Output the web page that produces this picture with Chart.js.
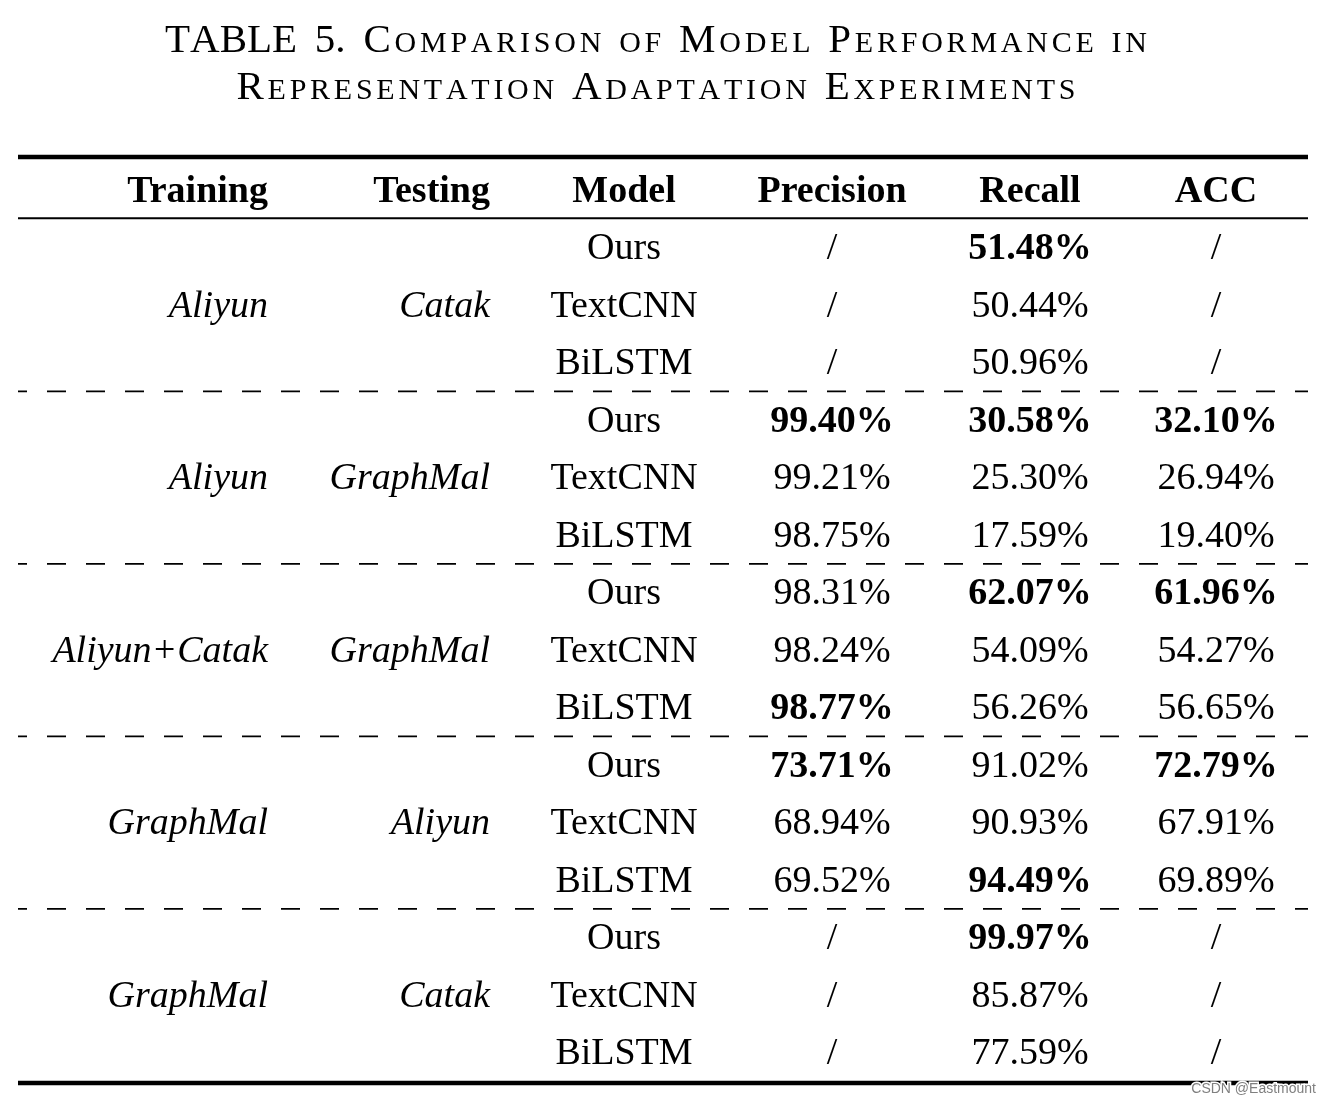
<!DOCTYPE html>
<html>
<head>
<meta charset="utf-8">
<script src="https://cdn.jsdelivr.net/npm/chart.js@4.4.1/dist/chart.umd.min.js"></script>
<style>
    html, body { margin: 0; padding: 0; background: #fff; overflow: hidden; }
    #contenedor { width: 1331px; height: 1103px; position: relative; }
</style>
</head>
<body>
<div id="contenedor"><canvas id="tablaChart"></canvas></div>
<script>
// Datos de la tabla
const titulo = ['TABLE 5. Comparison of Model Performance in', 'Representation Adaptation Experiments'];
const encabezados = ['Training', 'Testing', 'Model', 'Precision', 'Recall', 'ACC'];
const entrenamiento = ['Aliyun', 'Aliyun', 'Aliyun+Catak', 'GraphMal', 'GraphMal'];
const prueba = ['Catak', 'GraphMal', 'GraphMal', 'Aliyun', 'Catak'];
const modelos = ['Ours', 'TextCNN', 'BiLSTM'];
const precision = [null, null, null, 99.40, 99.21, 98.75, 98.31, 98.24, 98.77, 73.71, 68.94, 69.52, null, null, null];
const recall = [51.48, 50.44, 50.96, 30.58, 25.30, 17.59, 62.07, 54.09, 56.26, 91.02, 90.93, 94.49, 99.97, 85.87, 77.59];
const acc = [null, null, null, 32.10, 26.94, 19.40, 61.96, 54.27, 56.65, 72.79, 67.91, 69.89, null, null, null];
const marcaAgua = 'CSDN @Eastmount';

// Disposicion (unidades de las escalas)
const anclaX = [268, 490, 624, 832, 1030, 1216];
const alineacion = ['right', 'right', 'center', 'center', 'center', 'center'];
const FUENTE = '"Liberation Serif", "Times New Roman", serif';
const BASE_TEXTO = 0.21; // desplazamiento de la linea base respecto al centro de fila

function textoValor(v) {
    return v === null ? '/' : v.toFixed(2) + '%';
}

// Negrita si es el mejor valor del grupo
function esMejor(serie, i) {
    if (serie[i] === null) return false;
    const g = Math.floor(i / 3) * 3;
    const grupo = serie.slice(g, g + 3).filter(v => v !== null);
    return serie[i] === Math.max(...grupo);
}

// Construir las celdas por columna
function construirCeldas() {
    const columnas = encabezados.map((h, c) => [{ x: anclaX[c], y: 0, texto: h, estilo: 'bold' }]);
    entrenamiento.forEach((t, g) => {
        columnas[0].push({ x: anclaX[0], y: g * 3 + 2, texto: t, estilo: 'italic' });
        columnas[1].push({ x: anclaX[1], y: g * 3 + 2, texto: prueba[g], estilo: 'italic' });
        modelos.forEach((m, k) => {
            columnas[2].push({ x: anclaX[2], y: g * 3 + k + 1, texto: m, estilo: '' });
        });
    });
    [precision, recall, acc].forEach((serie, s) => {
        serie.forEach((v, i) => {
            columnas[3 + s].push({ x: anclaX[3 + s], y: i + 1, texto: textoValor(v), estilo: esMejor(serie, i) ? 'bold' : '' });
        });
    });
    return columnas.map((datos, c) => ({
        label: encabezados[c],
        data: datos,
        pointRadius: 0,
        alineacion: alineacion[c]
    }));
}

// Titulo en versalitas (espaciado extra entre letras pequeñas y en los espacios)
function dibujarVersalitas(ctx, texto, xCentro, yBase, tamGrande, tamPeq, anchoObjetivo) {
    const letras = [...texto];
    const esPeq = ch => ch !== ch.toUpperCase();
    const trozos = letras.map((ch, i) => {
        const sig = letras[i + 1];
        const conEspacio = sig !== undefined && (esPeq(ch) || esPeq(sig) || ch === ' ' || sig === ' ');
        return { ch: ch.toUpperCase(), font: (esPeq(ch) ? tamPeq : tamGrande) + 'px ' + FUENTE, conEspacio };
    });
    let ancho = 0;
    let huecos = 0;
    trozos.forEach(t => {
        ctx.font = t.font;
        t.w = ctx.measureText(t.ch).width;
        ancho += t.w;
        if (t.conEspacio) huecos++;
    });
    const extra = Math.max(0, (anchoObjetivo - ancho) / huecos);
    let x = xCentro - (ancho + extra * huecos) / 2;
    ctx.textAlign = 'left';
    ctx.textBaseline = 'alphabetic';
    trozos.forEach(t => {
        ctx.font = t.font;
        ctx.fillText(t.ch, x, yBase);
        x += t.w + (t.conEspacio ? extra : 0);
    });
}

const pluginTabla = {
    id: 'pluginTabla',
    afterDatasetsDraw(chart) {
        const ctx = chart.ctx;
        const xs = chart.scales.x;
        const ys = chart.scales.y;
        ctx.save();
        ctx.fillStyle = '#000';
        ctx.strokeStyle = '#000';

        // Titulo
        dibujarVersalitas(ctx, titulo[0], xs.getPixelForValue(656), ys.getPixelForValue(-2.39), 41, 30, 982);
        dibujarVersalitas(ctx, titulo[1], xs.getPixelForValue(656), ys.getPixelForValue(-1.57), 41, 30, 839);

        // Lineas horizontales
        const x0 = xs.getPixelForValue(18);
        const x1 = xs.getPixelForValue(1308);
        const linea = (y, ancho, discontinua) => {
            ctx.beginPath();
            ctx.lineWidth = ancho;
            ctx.setLineDash(discontinua ? [19, 20] : []);
            ctx.lineDashOffset = discontinua ? 10 : 0;
            ctx.moveTo(x0, ys.getPixelForValue(y));
            ctx.lineTo(x1, ys.getPixelForValue(y));
            ctx.stroke();
        };
        linea(-0.565, 4.5, false);
        linea(0.5, 2, false);
        entrenamiento.slice(1).forEach((t, g) => linea((g + 1) * 3 + 0.51, 1.8, true));
        linea(15.54, 4.5, false);
        ctx.setLineDash([]);

        // Celdas
        ctx.textBaseline = 'alphabetic';
        chart.data.datasets.forEach(ds => {
            ctx.textAlign = ds.alineacion;
            ds.data.forEach(p => {
                ctx.font = (p.estilo ? p.estilo + ' ' : '') + '38px ' + FUENTE;
                ctx.fillText(p.texto, xs.getPixelForValue(p.x), ys.getPixelForValue(p.y + BASE_TEXTO));
            });
        });

        // Marca de agua
        ctx.font = '14px "Liberation Sans", Arial, sans-serif';
        ctx.textAlign = 'right';
        ctx.lineWidth = 3;
        ctx.strokeStyle = '#fff';
        const xm = xs.getPixelForValue(1316);
        const ym = ys.getPixelForValue(15.72);
        ctx.strokeText(marcaAgua, xm, ym);
        ctx.fillStyle = '#808080';
        ctx.fillText(marcaAgua, xm, ym);
        ctx.restore();
    }
};

function crearTabla() {
    const ctx = document.getElementById('tablaChart').getContext('2d');
    new Chart(ctx, {
        type: 'scatter',
        data: { datasets: construirCeldas() },
        options: {
            responsive: true,
            maintainAspectRatio: false,
            animation: false,
            layout: { padding: 0 },
            plugins: {
                legend: { display: false },
                tooltip: { enabled: false },
                title: { display: false }
            },
            scales: {
                x: { type: 'linear', display: false, min: 0, max: 1331 },
                y: { type: 'linear', display: false, reverse: true, min: -3.2957, max: 15.887 }
            }
        },
        plugins: [pluginTabla]
    });
}

document.addEventListener('DOMContentLoaded', crearTabla);
</script>
</body>
</html>
